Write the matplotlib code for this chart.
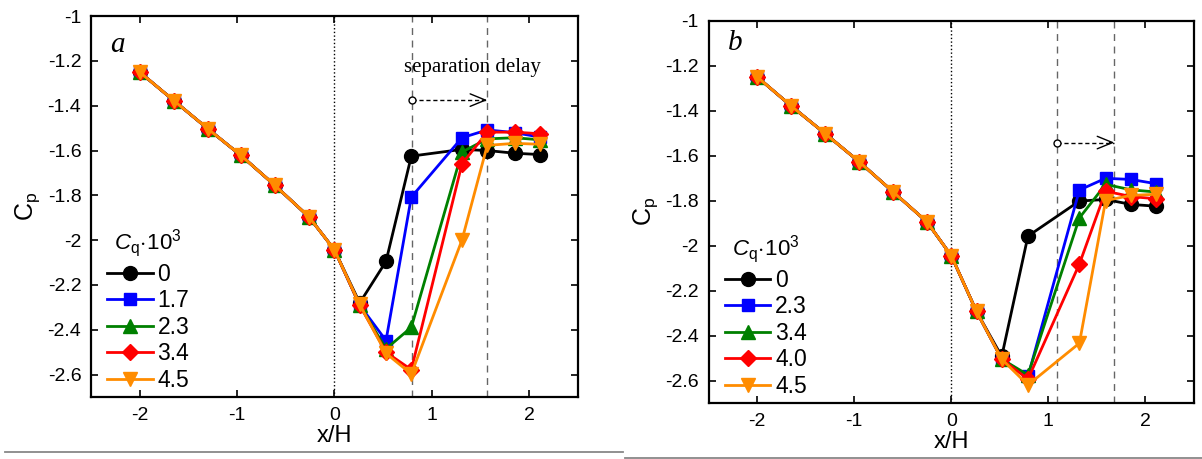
import numpy as np
import matplotlib
matplotlib.use('Agg')
from matplotlib import pyplot as plt
from matplotlib.lines import Line2D

plt.rcParams['font.family'] = ['Liberation Sans', 'DejaVu Sans']
plt.rcParams['mathtext.fontset'] = 'custom'
plt.rcParams['mathtext.rm'] = 'Liberation Sans'
plt.rcParams['mathtext.it'] = 'Liberation Sans:italic'

# panel a data
x_a = [-2, -1.65, -1.3, -0.96, -0.61, -0.26, 0, 0.26, 0.53, 0.79, 1.31, 1.57, 1.85, 2.11]
common_a = [-1.25, -1.377, -1.503, -1.622, -1.756, -1.897, -2.043]
cq_a = ["0", "1.7", "2.3", "3.4", "4.5"]
tail_a = [
    [-2.28, -2.095, -1.625, -1.595, -1.60, -1.612, -1.618],
    [-2.29, -2.448, -1.808, -1.543, -1.508, -1.520, -1.540],
    [-2.29, -2.485, -2.389, -1.607, -1.548, -1.543, -1.552],
    [-2.29, -2.500, -2.578, -1.660, -1.518, -1.518, -1.525],
    [-2.287, -2.505, -2.597, -2.000, -1.577, -1.568, -1.572],
]

# panel b data
x_b = [-2, -1.65, -1.3, -0.95, -0.6, -0.25, 0, 0.26, 0.52, 0.79, 1.32, 1.59, 1.85, 2.11]
common_b = [-1.25, -1.379, -1.502, -1.627, -1.761, -1.895, -2.045, -2.293]
cq_b = ["0", "2.3", "3.4", "4.0", "4.5"]
tail_b = [
    [-2.493, -1.958, -1.802, -1.795, -1.817, -1.825],
    [-2.505, -2.582, -1.753, -1.701, -1.706, -1.725],
    [-2.505, -2.575, -1.877, -1.728, -1.752, -1.762],
    [-2.505, -2.594, -2.082, -1.758, -1.782, -1.792],
    [-2.505, -2.620, -2.434, -1.800, -1.777, -1.772],
]

colors = ['black', '#0000ff', '#008000', '#ff0000', '#ff8c00']
markers = ['o', 's', '^', 'D', 'v']
msizes = [10, 9, 10, 8.5, 10.5]

yticks = [-1, -1.2, -1.4, -1.6, -1.8, -2, -2.2, -2.4, -2.6]
ytick_labels = ["-1", "-1.2", "-1.4", "-1.6", "-1.8", "-2", "-2.2", "-2.4", "-2.6"]

fig = plt.figure(figsize=(12.02, 4.59), dpi=100)
ax_a = fig.add_axes([0.0757, 0.135, 0.405, 0.830])
ax_b = fig.add_axes([0.5895, 0.122, 0.4038, 0.833])


def draw_panel(ax, x, common, tails, labels, letter, lines, arrow_y):
    for i in range(5):
        y = common + tails[i]
        ax.plot(x, y, color=colors[i], marker=markers[i], markersize=msizes[i],
                linewidth=2.0, label=labels[i], zorder=3 + i)
    ax.axvline(0, color='black', linestyle=':', linewidth=1.0, zorder=1)
    for xv in lines:
        ax.axvline(xv, color='#666666', linestyle=(0, (5, 4)), linewidth=1.0, zorder=1)
    # dashed arrow: shaft + solid open head
    ax.plot([lines[0], lines[1]], [arrow_y, arrow_y], color='black',
            linestyle=(0, (3, 2)), linewidth=1.0, zorder=9)
    ax.annotate("", xy=(lines[1], arrow_y), xytext=(lines[1] - 0.05, arrow_y),
                arrowprops=dict(arrowstyle='->,head_length=1.1,head_width=0.45',
                                color='black', lw=1.0, shrinkA=0, shrinkB=0),
                zorder=9)
    ax.plot([lines[0]], [arrow_y], marker='o', markersize=5,
            markerfacecolor='white', markeredgecolor='black', zorder=10)
    ax.text(-2.3, -1.13 if letter == 'a' else -1.1, letter, family='Liberation Serif',
            style='italic', fontsize=21, ha='left', va='center')
    ax.set_xlim(-2.5, 2.5)
    ax.set_ylim(-2.7, -1)
    ax.set_xticks([-2, -1, 0, 1, 2])
    ax.set_xticklabels(["-2", "-1", "0", "1", "2"])
    ax.set_yticks(yticks)
    ax.set_yticklabels(ytick_labels)
    ax.tick_params(direction='in', length=5, width=1.2, labelsize=14,
                   top=True, right=True, pad=7)
    for s in ax.spines.values():
        s.set_linewidth(1.6)
    ax.set_xlabel("x/H", fontsize=17, labelpad=1)
    ax.set_ylabel(r"C$_\mathregular{p}$", fontsize=18, labelpad=4)
    leg = ax.legend(loc='lower left', bbox_to_anchor=(0.0, -0.028), fontsize=16.5,
                    title=r"$\mathit{C}_\mathregular{q}\!\cdot\!\mathregular{10}^\mathregular{3}$",
                    title_fontsize=16, handlelength=2.0, handletextpad=0.2,
                    labelspacing=0.15, borderpad=0.2, frameon=False)
    leg.set_zorder(20)


draw_panel(ax_a, x_a, common_a, tail_a, cq_a, 'a', [0.8, 1.57], -1.375)
ax_a.text(1.42, -1.228, "separation delay", family='Liberation Serif',
          fontsize=15, ha='center', va='center')
draw_panel(ax_b, x_b, common_b, tail_b, cq_b, 'b', [1.09, 1.68], -1.542)

fig.add_artist(Line2D([5 / 1202, 623 / 1202], [1 - 452 / 459] * 2,
                      color='#888888', linewidth=1.3))
fig.add_artist(Line2D([625 / 1202, 1.0], [1 - 457.5 / 459] * 2,
                      color='#888888', linewidth=1.3))

plt.savefig("out.png", dpi=100)
